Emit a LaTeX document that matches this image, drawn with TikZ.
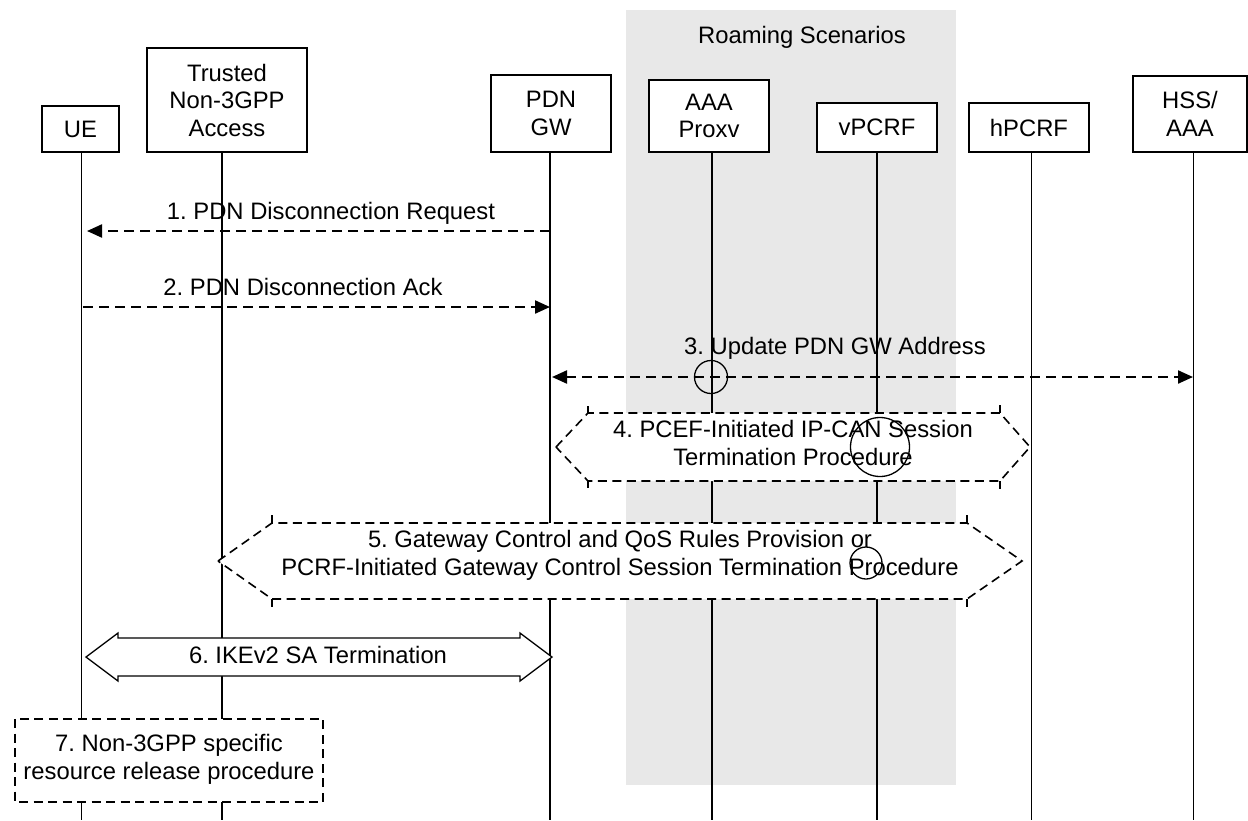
\documentclass[tikz,border=0pt]{standalone}
\usepackage{fontspec}
\setmainfont{Liberation Sans}
\usetikzlibrary{arrows.meta,calc}
\definecolor{roamgray}{RGB}{232,232,232}
\frenchspacing
\begin{document}
\frenchspacing
\begin{tikzpicture}[x=1pt,y=-1pt,
  font=\fontsize{23.8}{27.5}\selectfont\frenchspacing,
  ent/.style={draw, line width=1.7pt, fill=white, inner sep=0pt, align=center},
  life/.style={line width=1.4pt},
  msgline/.style={line width=2.2pt, dash pattern=on 10pt off 6pt},
  tipend/.style={-{Triangle[length=15pt,width=13pt]}},
  tipboth/.style={{Triangle[length=15pt,width=13pt]}-{Triangle[length=15pt,width=13pt]}},
  procbox/.style={line width=1.6pt, dash pattern=on 9pt off 5.5pt, fill=white},
  tick/.style={line width=1.4pt},
  txt/.style={inner sep=0pt, align=center},
  ring/.style={draw, circle, line width=1.3pt, inner sep=0pt}
]
\useasboundingbox (0,0) rectangle (1248,820);

% roaming area
\fill[roamgray] (626,10) rectangle (956,785);
\node[txt, anchor=base] (roam) at (802,43) {Roaming Scenarios};

% lifelines
\foreach \n/\x in {ue/81.5, tna/222, pgw/550, aaa/712, vp/877, hp/1031.5, hss/1193.5}{
  \coordinate (\n-top) at (\x,152);
  \coordinate (\n-bot) at (\x,820);
  \draw[life] (\n-top) -- (\n-bot);
}

% 1
\coordinate (m1a) at (550,231);
\coordinate (m1b) at (87,231);
\draw[msgline, tipend] (m1a) -- (m1b);
\node[txt, anchor=base] (l1) at (331,219) {1. PDN Disconnection Request};

% 2
\coordinate (m2a) at (83,307);
\coordinate (m2b) at (550,307);
\draw[msgline, tipend] (m2a) -- (m2b);
\node[txt, anchor=base] (l2) at (303,295) {2. PDN Disconnection Ack};

% 3
\coordinate (m3a) at (552,377);
\coordinate (m3b) at (1193,377);
\draw[msgline, tipboth] (m3a) -- (m3b);
\node[txt, anchor=base] (l3) at (835,354) {3. Update PDN GW Address};
\node[ring, minimum size=33pt] (c1) at (711,377) {};

% 4
\coordinate (p4l) at (556,447);
\coordinate (p4r) at (1030,447);
\draw[procbox] (p4l) -- (588,413) -- (1000,413) -- (p4r) -- (1000,481) -- (588,481) -- cycle;
\foreach \x/\y/\d in {588/413/-7, 1000/413/-8, 588/481/7, 1000/481/8}{
  \draw[tick] (\x,\y) -- ++(0,\d);
}
\node[txt] (t4) at (793,443) {4. PCEF-Initiated IP-CAN Session\\Termination Procedure};
\node[ring, minimum size=59pt] (c2) at (880,447) {};

% 5
\coordinate (p5l) at (218,561);
\coordinate (p5r) at (1022,561);
\draw[procbox] (p5l) -- (272,523) -- (967,523) -- (p5r) -- (967,599) -- (272,599) -- cycle;
\foreach \x/\y/\d in {272/523/-8, 967/523/-8, 272/599/8, 967/599/8}{
  \draw[tick] (\x,\y) -- ++(0,\d);
}
\node[txt] (t5) at (620,555.5) {5. Gateway Control and QoS Rules Provision or\\PCRF-Initiated Gateway Control Session Termination Procedure};
\node[ring, minimum size=32pt] (c3) at (866,563) {};

% 6
\coordinate (a6l) at (86,657);
\coordinate (a6r) at (552,657);
\draw[line width=1.3pt, fill=white] (a6l) -- ++(32,-24) -- ++(0,5) -- ($(a6r)+(-32,-19)$) -- ++(0,-5) -- (a6r)
  -- ++(-32,24) -- ++(0,-5) -- ($(a6l)+(32,19)$) -- ++(0,5) -- cycle;
\node[txt, anchor=base] (l6) at (318,663) {6. IKEv2 SA Termination};

% 7
\draw[procbox] (15,719) rectangle (323,802);
\node[txt] (t7) at (169,759.5) {7. Non-3GPP specific\\resource release procedure};

% entities
\node[ent, minimum width=77pt, minimum height=46pt] (ue) at (80.5,129) {UE};
\node[ent, minimum width=160pt, minimum height=104pt] (tna) at (227,100) {Trusted\\Non-3GPP\\Access};
\node[ent, minimum width=120pt, minimum height=77pt] (pgw) at (551,113.5) {PDN\\GW};
\node[ent, minimum width=120pt, minimum height=72pt] (aaa) at (709,116) {AAA\\Proxv};
\node[ent, minimum width=120pt, minimum height=49pt] (vpcrf) at (877,127.5) {vPCRF};
\node[ent, minimum width=120pt, minimum height=49pt] (hpcrf) at (1029,127.5) {hPCRF};
\node[ent, minimum width=114pt, minimum height=76pt] (hss) at (1190,114) {HSS/\\AAA};
\end{tikzpicture}
\end{document}
